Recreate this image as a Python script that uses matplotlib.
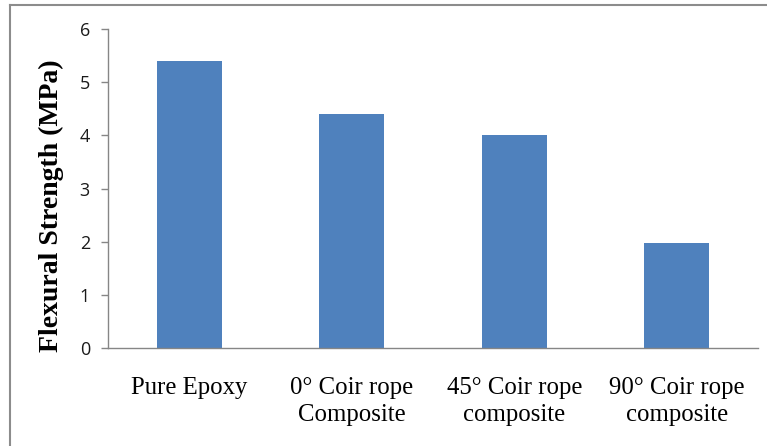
import matplotlib.pyplot as plt
from matplotlib.lines import Line2D

# flexural strength of the samples
categories = ["Pure Epoxy", "0° Coir rope\nComposite", "45° Coir rope\ncomposite", "90° Coir rope\ncomposite"]
strength = [5.4, 4.4, 4.0, 1.97]
yticks = [0, 1, 2, 3, 4, 5, 6]

W, H = 767, 446
fig = plt.figure(figsize=(W / 100, H / 100), dpi=100)
ax = fig.add_axes([108 / W, 1 - 348 / H, (758 - 108) / W, (348 - 29) / H])

x = range(len(categories))
ax.bar(x, strength, width=0.4, color="#4f81bd", zorder=2)

ax.set_xlim(-0.5, len(categories) - 0.5)
ax.set_ylim(0, 6)
ax.set_yticks(yticks)
ax.set_yticklabels([str(t) for t in yticks], fontsize=13, family="Open Sans", color="#1a1a1a")
ax.set_xticks(list(x))
ax.set_xticklabels(categories, fontsize=17.8, family="Liberation Serif", linespacing=1.3)
ax.tick_params(axis="x", length=0, pad=21)
ax.tick_params(axis="y", length=5, width=1, color="#868686", pad=8)

for side in ("top", "right"):
    ax.spines[side].set_visible(False)
for side in ("left", "bottom"):
    ax.spines[side].set_color("#868686")
    ax.spines[side].set_linewidth(1)

fig.text(51 / W, 1 - 206 / H, "Flexural Strength (MPa)", rotation=90,
         ha="center", va="center", fontsize=20, fontweight="bold",
         family="Liberation Serif")

# outer chart frame (top and left edges)
fig.add_artist(Line2D([10 / W, 1], [1 - 5 / H, 1 - 5 / H], transform=fig.transFigure,
                      color="#8c8c8c", linewidth=1.5))
fig.add_artist(Line2D([10 / W, 10 / W], [0, 1 - 5 / H], transform=fig.transFigure,
                      color="#8c8c8c", linewidth=1.5))

fig.savefig("out.png", dpi=100)
